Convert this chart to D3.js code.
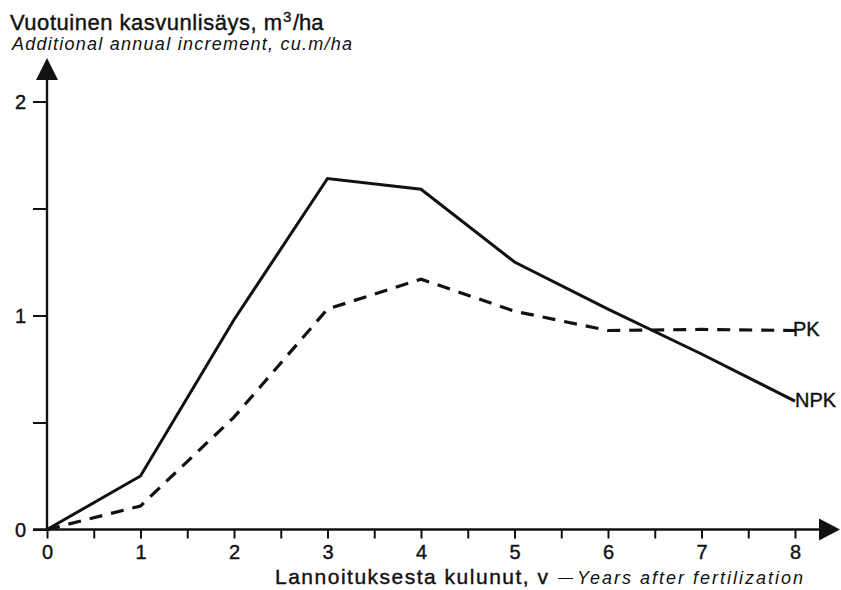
<!DOCTYPE html>
<html>
<head>
<meta charset="utf-8">
<script src="https://cdn.jsdelivr.net/npm/d3@7"></script>
<style>
  body { margin: 0; background: #fff; }
  text { font-family: "Liberation Sans", Arial, sans-serif; fill: #111; }
  .heavy { stroke: #111; stroke-width: 0.4; }
</style>
</head>
<body>
<div class="chart"></div>
<script>
// data
var years = [0, 1, 2, 3, 4, 5, 6, 7, 8];
var npk = [0, 0.25, 0.98, 1.64, 1.59, 1.25, 1.03, 0.82, 0.60];
var pk = [0, 0.11, 0.525, 1.03, 1.17, 1.02, 0.93, 0.935, 0.93];
var xTicks = [0, 0.5, 1, 1.5, 2, 2.5, 3, 3.5, 4, 4.5, 5, 5.5, 6, 6.5, 7, 7.5, 8];
var yTicks = [0, 0.5, 1, 1.5, 2];

var w = 841, h = 590;

var svg = d3.select(".chart")
            .append("svg")
            .attr("width", w)
            .attr("height", h);

// scales
var x = d3.scaleLinear().domain([0, 8]).range([47, 795]);
var y = d3.scaleLinear().domain([0, 2]).range([529.5, 101.5]);

var intFmt = function (d) { return d % 1 === 0 ? d : ""; };

// x axis
var gx = svg.append("g")
    .attr("transform", "translate(0," + y(0) + ")")
    .call(d3.axisBottom(x).tickValues(xTicks).tickSize(9).tickSizeOuter(0).tickPadding(6).tickFormat(intFmt));
gx.select(".domain").remove();
gx.selectAll("line").attr("stroke", "#111").attr("stroke-width", 2);
gx.selectAll("text").attr("font-size", 20).attr("class", "heavy");
gx.append("line")
    .attr("x1", x(0) - 14).attr("x2", 824)
    .attr("stroke", "#111").attr("stroke-width", 2.4);

// y axis
var gy = svg.append("g")
    .attr("transform", "translate(" + x(0) + ",0)")
    .call(d3.axisLeft(y).tickValues(yTicks).tickSize(14).tickSizeOuter(0).tickPadding(7).tickFormat(intFmt));
gy.select(".domain").remove();
gy.selectAll("line").attr("stroke", "#111").attr("stroke-width", 2);
gy.selectAll("text").attr("font-size", 20).attr("dy", "0.36em").attr("class", "heavy");
gy.append("line")
    .attr("y1", y(0) + 1).attr("y2", 74)
    .attr("stroke", "#111").attr("stroke-width", 2.4);

// arrow heads
svg.append("path")
    .attr("d", "M" + x(0) + ",58 L" + (x(0) - 11) + ",80 L" + (x(0) + 11) + ",80 Z")
    .attr("fill", "#111");
svg.append("path")
    .attr("d", "M840," + y(0) + " L819," + (y(0) - 11) + " L819," + (y(0) + 11) + " Z")
    .attr("fill", "#111");

// lines
var line = d3.line()
    .x(function (d, i) { return x(years[i]); })
    .y(function (d) { return y(d); });

svg.append("path")
    .datum(npk)
    .attr("d", line)
    .attr("fill", "none")
    .attr("stroke", "#111")
    .attr("stroke-width", 3);

svg.append("path")
    .datum(pk)
    .attr("d", line)
    .attr("fill", "none")
    .attr("stroke", "#111")
    .attr("stroke-width", 3.2)
    .attr("stroke-dasharray", "13,9");

// series labels
svg.append("text")
    .attr("x", x(8) - 2).attr("y", y(pk[8]) + 6)
    .attr("font-size", 20).attr("class", "heavy")
    .text("PK");
svg.append("text")
    .attr("x", x(8)).attr("y", y(npk[8]) + 6)
    .attr("font-size", 20).attr("class", "heavy")
    .text("NPK");

// titles
svg.append("text").attr("x", 10).attr("y", 30).attr("font-size", 22).attr("class", "heavy")
    .attr("textLength", 272).attr("lengthAdjust", "spacing")
    .text("Vuotuinen kasvunlisäys, m");
svg.append("text").attr("x", 283).attr("y", 22).attr("font-size", 15).attr("class", "heavy")
    .text("3");
svg.append("text").attr("x", 293).attr("y", 30).attr("font-size", 22).attr("class", "heavy")
    .text("/ha");

svg.append("text")
    .attr("x", 12).attr("y", 50)
    .attr("font-size", 18)
    .attr("font-style", "italic")
    .attr("textLength", 340).attr("lengthAdjust", "spacing")
    .text("Additional annual increment, cu.m/ha");

svg.append("text").attr("x", 275).attr("y", 584).attr("font-size", 21).attr("class", "heavy")
    .attr("textLength", 273).attr("lengthAdjust", "spacing")
    .text("Lannoituksesta kulunut, v");
svg.append("text").attr("x", 558).attr("y", 582).attr("font-size", 15)
    .text("\u2014");
svg.append("text").attr("x", 577).attr("y", 584).attr("font-size", 18)
    .attr("font-style", "italic")
    .attr("textLength", 226).attr("lengthAdjust", "spacing")
    .text("Years after fertilization");
</script>
</body>
</html>
